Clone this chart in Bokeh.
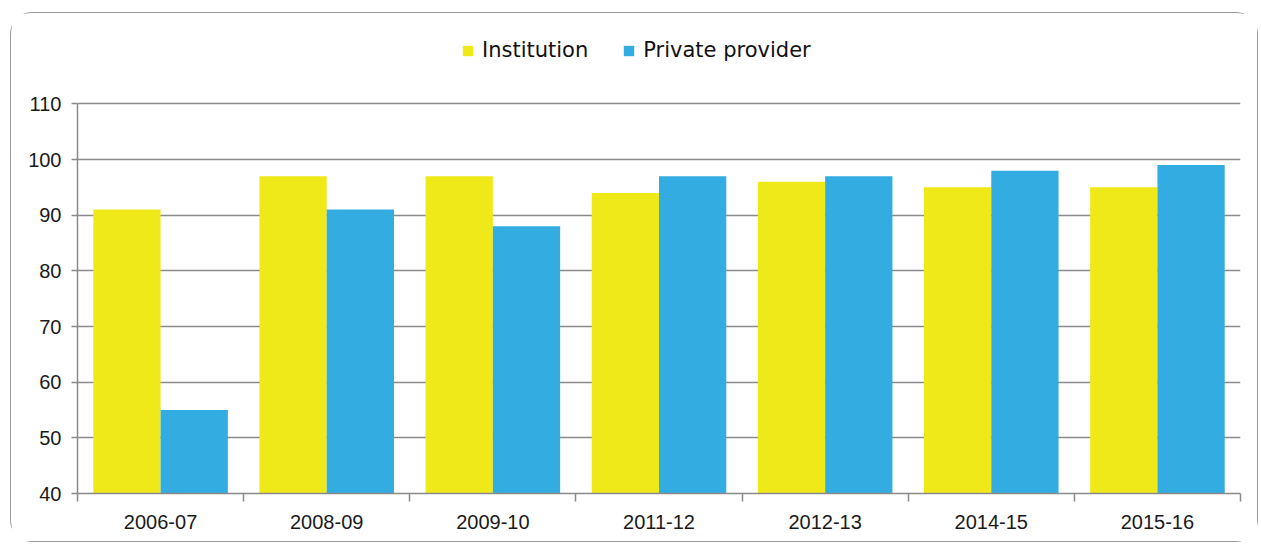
import numpy as np
from bokeh.plotting import figure
from bokeh.models import (ColumnDataSource, Range1d, FixedTicker, CustomJSTickFormatter,
                          Legend, LegendItem)
from bokeh.transform import dodge
from bokeh.embed import file_html
from bokeh.resources import INLINE

categories = ["2006-07", "2008-09", "2009-10", "2011-12", "2012-13", "2014-15", "2015-16"]
institution = [91, 97, 97, 94, 96, 95, 95]
private_provider = [55, 91, 88, 97, 97, 98, 99]
y_ticks = [40, 50, 60, 70, 80, 90, 100, 110]

n = len(categories)
src = ColumnDataSource(dict(
    x=np.arange(n) + 0.5,
    cat=categories,
    inst=institution,
    priv=private_provider,
))

p = figure(width=1248, height=530, x_range=Range1d(0, n), y_range=Range1d(40, 123),
           output_backend="svg", toolbar_location=None,
           min_border_left=66, min_border_right=19, min_border_top=18, min_border_bottom=50)
p.margin = (12, 0, 0, 10)
p.styles = {"border": "1.5px solid #9a9a9a", "border-radius": "22px"}
p.outline_line_color = None
p.background_fill_color = "white"
p.border_fill_color = "white"

bw = 0.405
r1 = p.vbar(x=dodge("x", -bw / 2, range=p.x_range), top="inst", bottom=40, width=bw,
            source=src, fill_color="#F0E91A", line_color=None)
r2 = p.vbar(x=dodge("x", bw / 2, range=p.x_range), top="priv", bottom=40, width=bw,
            source=src, fill_color="#33ADE1", line_color=None)

# y axis
p.yaxis.ticker = FixedTicker(ticks=y_ticks)
p.yaxis.bounds = (y_ticks[0], y_ticks[-1])
p.yaxis.axis_line_color = "#8a8a8a"
p.yaxis.axis_line_width = 1.5
p.yaxis.major_tick_line_color = "#8a8a8a"
p.yaxis.major_tick_line_width = 1.5
p.yaxis.major_tick_out = 6
p.yaxis.major_tick_in = 0
p.yaxis.minor_tick_line_color = None
p.yaxis.major_label_standoff = 10
p.yaxis.major_label_text_font = "Liberation Sans"
p.yaxis.major_label_text_font_size = "20px"
p.yaxis.major_label_text_color = "#1a1a1a"

# x axis: labels at centres, ticks at category boundaries
p.xaxis.ticker = FixedTicker(ticks=list(np.arange(n) + 0.5), minor_ticks=list(range(n + 1)))
p.xaxis.formatter = CustomJSTickFormatter(args=dict(cats=categories),
                                          code="return cats[Math.floor(tick)] || '';")
p.xaxis.axis_line_color = "#8a8a8a"
p.xaxis.axis_line_width = 1.5
p.xaxis.major_tick_line_color = None
p.xaxis.major_tick_out = 0
p.xaxis.major_tick_in = 0
p.xaxis.minor_tick_line_color = "#8a8a8a"
p.xaxis.minor_tick_line_width = 1.5
p.xaxis.minor_tick_out = 8
p.xaxis.minor_tick_in = 0
p.xaxis.major_label_standoff = 13
p.xaxis.major_label_text_font = "Liberation Sans"
p.xaxis.major_label_text_font_size = "20px"
p.xaxis.major_label_text_color = "#1a1a1a"

p.xgrid.grid_line_color = None
p.ygrid.ticker = FixedTicker(ticks=y_ticks)
p.ygrid.grid_line_color = "#8a8a8a"
p.ygrid.grid_line_width = 1.5

legend = Legend(items=[LegendItem(label="Institution", renderers=[r1]),
                       LegendItem(label="Private provider", renderers=[r2])],
                orientation="horizontal", location=(384, 431))
legend.border_line_color = None
legend.background_fill_alpha = 0
legend.padding = 0
legend.margin = 0
legend.glyph_width = 13
legend.glyph_height = 13
legend.label_standoff = 8
legend.spacing = 34
legend.label_text_font = "DejaVu Sans"
legend.label_text_font_size = "21px"
legend.label_text_color = "#111111"
p.add_layout(legend, "center")

open("out.html", "w").write(file_html(p, INLINE))
